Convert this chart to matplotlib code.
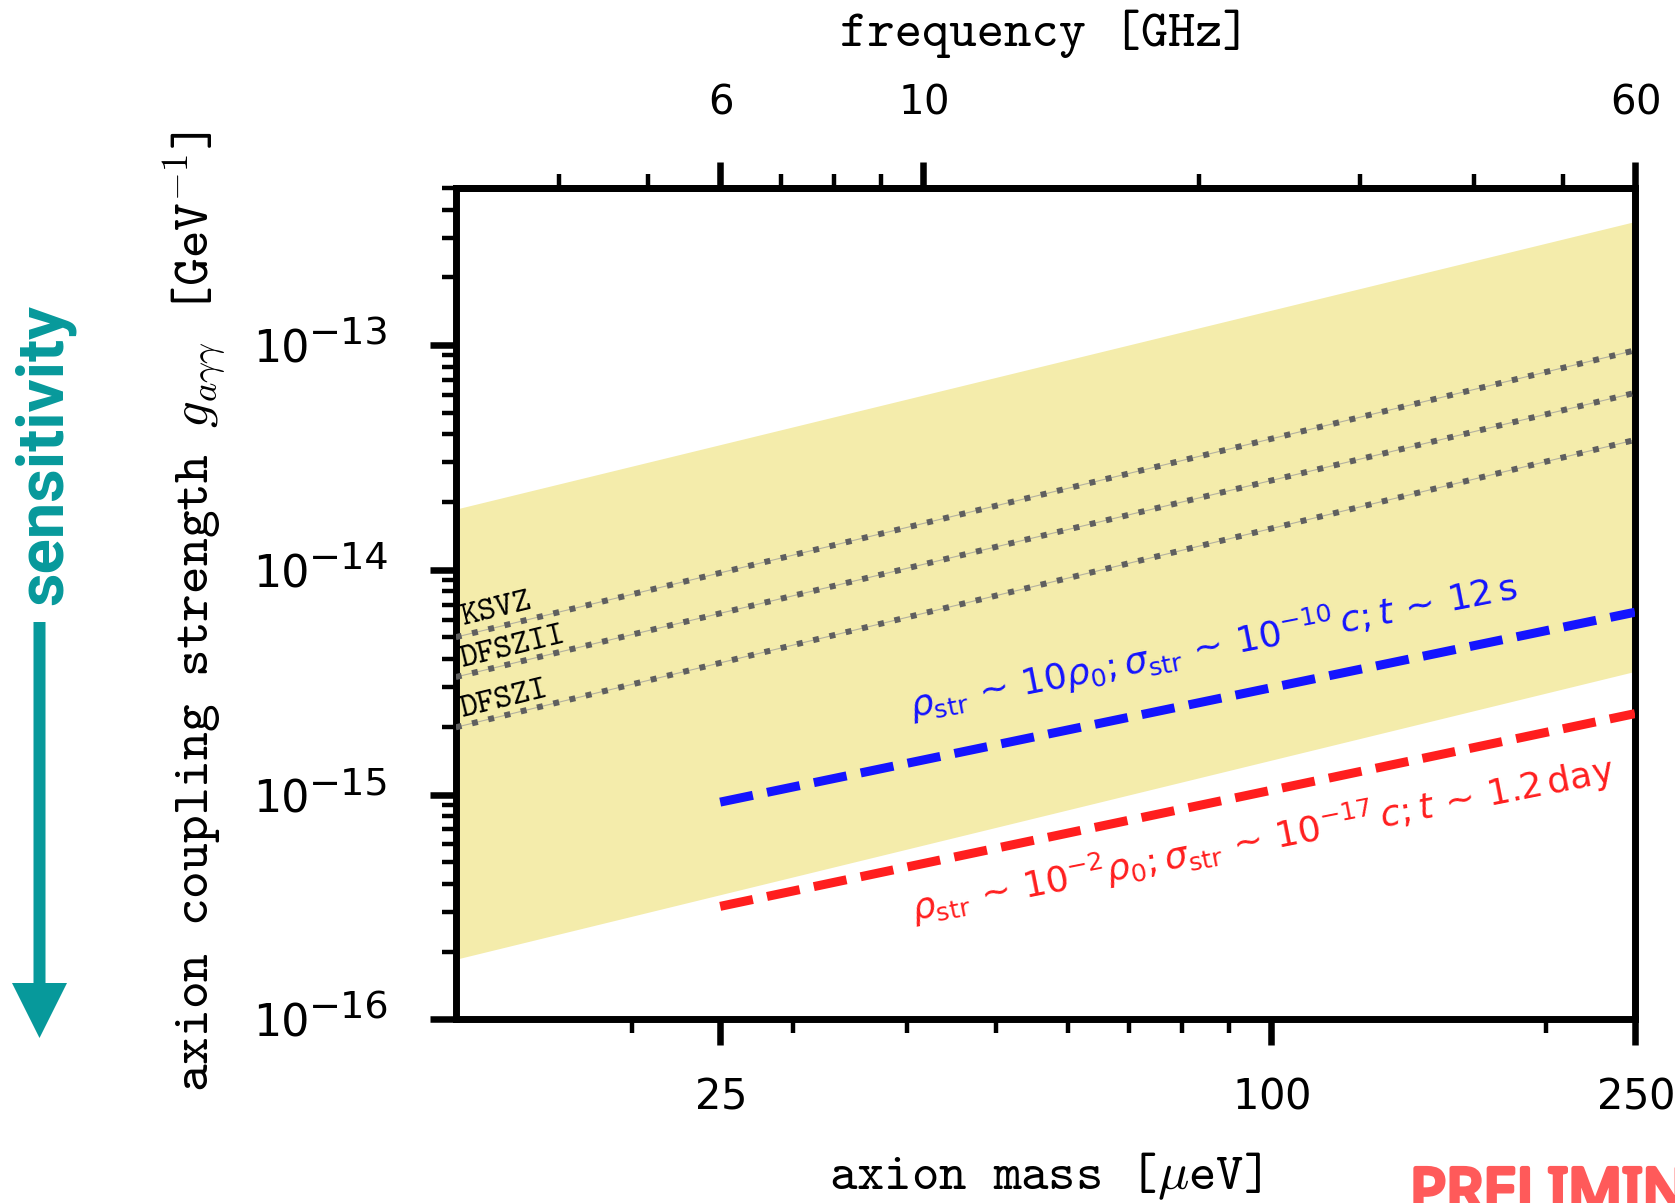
import numpy as np
import matplotlib
matplotlib.use("Agg")
import matplotlib.pyplot as plt
import matplotlib.patheffects as pe
from matplotlib.ticker import LogLocator, NullFormatter
from matplotlib.patches import FancyArrow
from matplotlib.transforms import blended_transform_factory, offset_copy

plt.rcParams["mathtext.fontset"] = "cm"

# mass range of the plot [ueV] and conversion to photon frequency
mass_edges = [12.85, 250.0]
GHZ_PER_UEV = 0.24

# QCD axion band [1/GeV]
band_low = [1.85e-16, 3.53e-15]
band_high = [1.86e-14, 3.54e-13]

# benchmark models
ksvz = [5.01e-15, 9.46e-14]
dfszii = [3.33e-15, 6.12e-14]
dfszi = [1.99e-15, 3.78e-14]

# projected reach for the two string scenarios
reach_mass = [25.0, 250.0]
reach_dense = [9.25e-16, 6.47e-15]
reach_dilute = [3.18e-16, 2.29e-15]

mass_ticks = [25, 100, 250]
mass_minor = [20, 30, 40, 50, 60, 70, 80, 90, 200]
freq_ticks = [6, 10, 60]
freq_minor = [4, 5, 7, 8, 9, 20, 30, 40, 50]
g_ticks = [1e-16, 1e-15, 1e-14, 1e-13]
g_exponents = ["\u221216", "\u221215", "\u221214", "\u221213"]

teal = "#07999b"
blue = "#1414ff"
red = "#ff1e1e"

fig = plt.figure(figsize=(16.75, 12.03), dpi=100)
ax = fig.add_axes([0.2721, 0.1527, 0.7040, 0.6912])
ax.set_xscale("log")
ax.set_yscale("log")
ax.set_xlim(mass_edges)
ax.set_ylim(1e-16, 5e-13)

ax.fill_between(mass_edges, band_low, band_high, color="#f4ecab", lw=0, zorder=1)

for g in (ksvz, dfszii, dfszi):
    ax.plot(mass_edges, g, color="#9a9a9a", lw=0.8, alpha=0.7, zorder=2)
    ax.plot(mass_edges, g, color="#5f5f5f", lw=4.3, dashes=(1, 1.8), zorder=3)

ax.plot(reach_mass, reach_dense, color=blue, lw=6.5, ls="--", zorder=4)
ax.plot(reach_mass, reach_dilute, color=red, lw=6.5, ls="--", zorder=4)


def slope_angle(x, y):
    p = ax.transData.transform(np.column_stack([x, y]))
    d = p[-1] - p[0]
    return np.degrees(np.arctan2(d[1], d[0]))


a_model = slope_angle(mass_edges, ksvz)
for name, gy in [("KSVZ", 5.66e-15), ("DFSZII", 3.68e-15), ("DFSZI", 2.21e-15)]:
    ax.text(13.08, gy, name, fontfamily="cmtt10", fontsize=24.5, rotation=a_model,
            rotation_mode="anchor", ha="left", va="baseline", zorder=5)

a_reach = slope_angle(reach_mass, reach_dense)
ax.text(40.5, 2.18e-15,
        r"$\rho_{\rm str}\,\sim\,10\rho_0;\sigma_{\rm str}\,\sim\,10^{-10}\,c;t\,\sim\,12\,{\rm s}$",
        color=blue, fontsize=26, math_fontfamily="dejavusans", rotation=a_reach - 0.6,
        rotation_mode="anchor", ha="left", va="baseline", zorder=5)
ax.text(40.7, 2.73e-16,
        r"$\rho_{\rm str}\,\sim\,10^{-2}\rho_0;\sigma_{\rm str}\,\sim\,10^{-17}\,c;t\,\sim\,1.2\,{\rm day}$",
        color=red, fontsize=26, math_fontfamily="dejavusans", rotation=a_reach - 0.5,
        rotation_mode="anchor", ha="left", va="baseline", zorder=5)

# axes styling
for s in ax.spines.values():
    s.set_linewidth(5)
ax.set_xticks(mass_ticks)
ax.set_xticklabels([r"$%d$" % t for t in mass_ticks], math_fontfamily="dejavusans")
ax.set_xticks(mass_minor, minor=True)
ax.xaxis.set_minor_formatter(NullFormatter())
ax.set_yticks(g_ticks)
ax.yaxis.set_minor_locator(LogLocator(base=10, subs=np.arange(2, 10)))
ax.yaxis.set_minor_formatter(NullFormatter())
ax.tick_params(which="both", direction="out", top=False, right=False)
ax.tick_params(which="major", length=18.7, width=4.7)
ax.tick_params(which="minor", length=10, width=3.2)
ax.tick_params(axis="x", which="major", pad=22, labelsize=30)
ax.tick_params(axis="y", labelleft=False)

# decade labels on the y axis, written as base and raised exponent
ylab_tr = blended_transform_factory(ax.transAxes, ax.transData)
base_tr = offset_copy(ylab_tr, fig=fig, x=-146, y=-17.5, units="dots")
exp_tr = offset_copy(ylab_tr, fig=fig, x=-66, y=0.5, units="dots")
for v, e in zip(g_ticks, g_exponents):
    ax.text(0, v, "10", transform=base_tr, ha="right", va="baseline", fontsize=32)
    ax.text(0, v, e, transform=exp_tr, ha="right", va="baseline", fontsize=27.5)

sec = ax.secondary_xaxis("top", functions=(lambda m: m * GHZ_PER_UEV,
                                           lambda f: f / GHZ_PER_UEV))
sec.spines["top"].set_linewidth(5)
sec.set_xticks(freq_ticks)
sec.set_xticklabels([r"$%d$" % t for t in freq_ticks], math_fontfamily="dejavusans")
sec.set_xticks(freq_minor, minor=True)
sec.xaxis.set_minor_formatter(NullFormatter())
sec.tick_params(which="both", direction="out")
sec.tick_params(which="major", length=18.7, width=4.7, pad=28, labelsize=29)
sec.tick_params(which="minor", length=10, width=3.2)

ax.set_xlabel(r"axion mass [$\mu$eV]", fontfamily="cmtt10", fontsize=37.5)
ax.xaxis.set_label_coords(0.5, -0.158)
ax.set_ylabel(r"axion coupling strength $g_{a\gamma\gamma}$ [GeV$^{-1}$]",
              fontfamily="cmtt10", fontsize=38)
ax.yaxis.set_label_coords(-0.193, 0.49)
sec.set_xlabel("frequency [GHz]", fontfamily="cmtt10", fontsize=37.5)
sec.xaxis.set_label_coords(0.5, 1.171, transform=ax.transAxes)

# sensitivity arrow on the left
fig.text(44.5 / 1675, 1 - 454.5 / 1203, "sensitivity", rotation=90, ha="center",
         va="center", fontfamily="Roboto", fontweight="bold", fontsize=47, color=teal)
fig.patches.append(FancyArrow(0.395, 5.81, 0, -4.16, width=0.12, head_width=0.55,
                              head_length=0.55, length_includes_head=True,
                              color=teal, lw=0, transform=fig.dpi_scale_trans,
                              figure=fig))

stamp = "#ff5a5a"
fig.text(1410 / 1675, 1 - 1165 / 1203, "PRELIMINARY", ha="left", va="top",
         fontsize=43, fontweight="bold", fontstretch="condensed", color=stamp,
         fontfamily="Noto Sans",
         path_effects=[pe.withStroke(linewidth=3.5, foreground=stamp)])

fig.savefig("out.png", dpi=100)
